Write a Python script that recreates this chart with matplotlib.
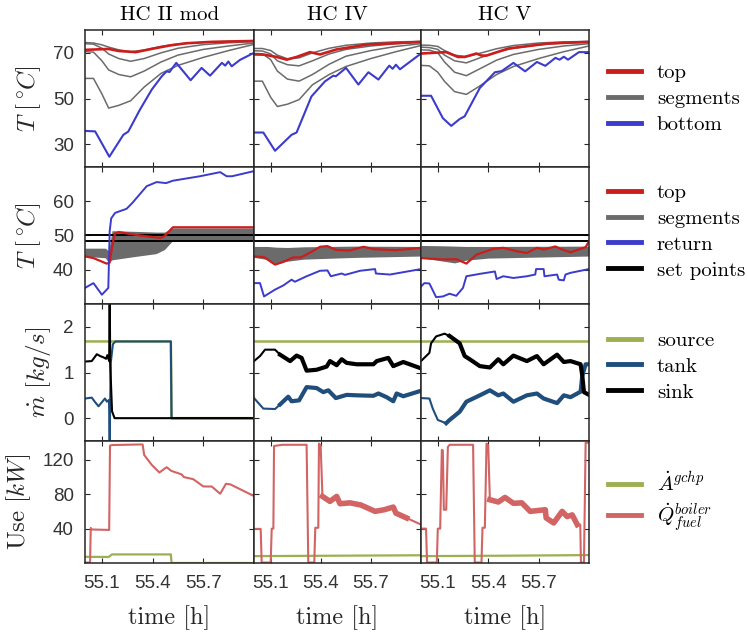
import matplotlib
matplotlib.use("Agg")
import matplotlib.pyplot as plt
from matplotlib.lines import Line2D

plt.rcParams["mathtext.fontset"] = "cm"
plt.rcParams["axes.unicode_minus"] = False

# ---------------- data ----------------
column_titles = ["HC II mod", "HC IV", "HC V"]
x_ticks = [55.1, 55.4, 55.7]
x_limits = [55.0, 56.0]

# Row 1: tank temperatures [deg C]
seg_time = [55.0, 55.05, 55.1, 55.14, 55.2, 55.27, 55.35, 55.45, 55.55, 55.7, 55.85, 56.0]
hc2_segments = [
    [74.5, 74.3, 73.5, 72.5, 71.3, 70.5, 71.2, 72.8, 73.9, 74.6, 75.0, 75.2],
    [74.0, 73.8, 72.0, 69.5, 67.5, 66.3, 67.5, 70.0, 72.0, 73.6, 74.4, 74.9],
    [70.5, 70.3, 66.5, 62.5, 60.5, 59.5, 62.0, 66.0, 69.0, 71.5, 73.0, 74.3],
    [58.8, 58.8, 52.0, 45.8, 47.0, 49.0, 55.0, 61.0, 64.5, 68.0, 71.0, 73.7],
]
hc4_segments = [
    [71.9, 71.9, 71.0, 69.0, 67.4, 67.8, 70.0, 72.0, 73.3, 74.3, 74.8, 75.0],
    [70.9, 70.8, 69.5, 66.5, 64.8, 64.3, 66.5, 69.5, 71.5, 73.0, 74.0, 74.6],
    [69.7, 69.6, 67.0, 62.0, 58.5, 57.6, 60.5, 65.0, 68.5, 71.0, 72.8, 74.0],
    [57.6, 57.6, 50.5, 46.5, 47.5, 49.5, 56.0, 60.5, 64.0, 67.5, 70.5, 73.2],
]
hc5_segments = [
    [73.4, 73.3, 72.8, 71.0, 69.0, 68.3, 69.8, 71.8, 73.2, 74.3, 74.8, 75.0],
    [72.5, 72.3, 71.5, 69.0, 66.5, 65.6, 67.8, 70.3, 72.0, 73.5, 74.3, 74.6],
    [71.3, 71.2, 70.0, 66.0, 61.5, 60.0, 63.0, 66.8, 69.3, 71.5, 73.0, 74.0],
    [64.5, 64.3, 61.5, 57.5, 53.0, 51.8, 55.5, 60.5, 64.0, 67.5, 70.5, 73.0],
]

hc2_top_t = [55.0, 55.14, 55.2, 55.3, 55.4, 55.5, 55.6, 55.75, 56.0]
hc2_top = [71.3, 71.7, 70.8, 70.3, 71.8, 73.2, 74.2, 74.8, 75.2]
hc4_top_t = [55.0, 55.06, 55.136, 55.196, 55.255, 55.335, 55.395, 55.495, 55.674, 56.0]
hc4_top = [69.3, 69.2, 68.2, 67.0, 68.2, 70.3, 69.3, 71.5, 73.6, 74.8]
hc5_top_t = [55.0, 55.15, 55.22, 55.26, 55.33, 55.36, 55.39, 55.52, 55.76, 56.0]
hc5_top = [69.7, 70.3, 68.2, 68.2, 69.7, 68.8, 68.8, 71.9, 74.1, 74.8]

hc2_bottom_t = [55.0, 55.06, 55.144, 55.227, 55.256, 55.325, 55.395, 55.454, 55.483, 55.50,
                55.54, 55.625, 55.69, 55.74, 55.81, 55.83, 55.848, 55.868, 55.917, 56.0]
hc2_bottom = [35.8, 35.6, 24.5, 34.1, 35.5, 45.1, 53.9, 59.7, 61.9, 61.6,
              65.6, 58.0, 63.4, 60.0, 65.6, 64.4, 66.2, 64.1, 66.9, 70.0]
hc4_bottom_t = [55.0, 55.056, 55.126, 55.225, 55.255, 55.344, 55.425, 55.475, 55.49, 55.551,
                55.625, 55.685, 55.745, 55.81, 55.83, 55.85, 55.874, 56.0]
hc4_bottom = [35.1, 35.1, 27.1, 34.1, 35.1, 50.9, 57.5, 60.0, 59.7, 63.4,
              56.1, 61.5, 58.3, 64.4, 63.0, 64.8, 62.8, 69.7]
hc5_bottom_t = [55.0, 55.06, 55.13, 55.18, 55.23, 55.26, 55.35, 55.44, 55.48, 55.55,
                55.62, 55.69, 55.74, 55.80, 55.825, 55.85, 55.875, 55.94, 56.0]
hc5_bottom = [51.2, 51.2, 41.4, 38.0, 41.0, 42.2, 54.6, 61.5, 62.0, 65.6,
              61.9, 66.0, 64.3, 67.8, 67.0, 68.3, 67.0, 70.3, 70.3]

# Row 2: heating circuit temperatures [deg C]
set_points = [50.0, 48.5]

hc2_band_t = [55.0, 55.12, 55.14, 55.16, 55.3, 55.42, 55.47, 55.52, 56.0]
hc2_band_hi = [46.3, 46.3, 45.5, 51.4, 51.2, 51.0, 51.0, 52.2, 52.2]
hc2_band_lo = [43.9, 43.5, 42.0, 42.9, 43.9, 44.7, 45.9, 48.6, 48.6]
hc4_band_t = [55.0, 55.08, 55.13, 55.2, 55.3, 55.6, 56.0]
hc4_band_hi = [46.8, 46.8, 46.6, 46.5, 46.7, 46.9, 46.8]
hc4_band_lo = [43.6, 43.0, 41.8, 42.5, 43.1, 43.6, 44.0]
hc5_band_t = [55.0, 55.12, 55.2, 55.27, 55.4, 56.0]
hc5_band_hi = [47.1, 47.0, 46.9, 46.8, 46.8, 46.9]
hc5_band_lo = [43.5, 42.6, 42.0, 42.8, 43.4, 44.0]

hc2_hctop_t = [55.0, 55.05, 55.128, 55.145, 55.165, 55.178, 55.2, 55.325, 55.444, 55.47, 55.52, 56.0]
hc2_hctop = [43.9, 43.4, 41.8, 42.0, 48.0, 50.6, 51.0, 50.0, 49.3, 49.8, 52.4, 52.4]
hc4_hctop_t = [55.0, 55.06, 55.126, 55.17, 55.235, 55.28, 55.325, 55.395, 55.44, 55.49,
               55.57, 55.655, 55.72, 55.85, 56.0]
hc4_hctop = [43.9, 43.7, 41.5, 42.2, 43.6, 43.6, 44.7, 46.7, 46.9, 45.8,
             45.6, 46.7, 46.0, 45.7, 46.4]
hc5_hctop_t = [55.0, 55.13, 55.21, 55.27, 55.33, 55.43, 55.49, 55.57, 55.63, 55.69,
               55.73, 55.80, 55.83, 55.89, 55.95, 55.98, 56.0]
hc5_hctop = [43.4, 43.0, 43.1, 41.8, 44.4, 46.1, 46.4, 45.4, 44.9, 46.4,
             45.9, 46.8, 46.1, 45.1, 46.1, 46.6, 48.3]

hc2_return_t = [55.0, 55.05, 55.1, 55.138, 55.146, 55.155, 55.178, 55.246, 55.28, 55.365,
                55.424, 55.48, 55.52, 55.68, 55.8, 55.838, 55.87, 56.0]
hc2_return = [34.7, 36.1, 32.7, 34.7, 51.2, 55.0, 56.6, 57.8, 59.5, 64.4,
              65.6, 65.3, 66.0, 67.3, 68.5, 67.3, 67.3, 68.8]
hc4_return_t = [55.0, 55.036, 55.06, 55.126, 55.175, 55.225, 55.245, 55.315, 55.395, 55.44,
                55.46, 55.525, 55.545, 55.635, 55.725, 55.73, 55.814, 56.0]
hc4_return = [36.1, 36.1, 32.2, 34.2, 35.4, 37.1, 36.5, 38.1, 39.7, 39.8,
              38.1, 38.9, 38.5, 39.7, 40.2, 38.9, 38.6, 40.2]
hc5_return_t = [55.0, 55.02, 55.05, 55.09, 55.13, 55.17, 55.21, 55.25, 55.27, 55.35,
                55.44, 55.45, 55.49, 55.55, 55.63, 55.68, 55.685, 55.73, 55.735, 55.81,
                55.82, 55.85, 55.86, 55.89, 56.0]
hc5_return = [35.1, 36.1, 36.0, 32.0, 32.2, 33.0, 32.4, 34.7, 38.1, 38.8,
              39.5, 37.3, 38.1, 37.6, 38.1, 38.6, 40.2, 40.2, 38.1, 38.6,
              37.1, 36.9, 38.6, 39.1, 40.2]

# Row 3: mass flows [kg/s]
hc2_source_t = [55.0, 55.508, 55.512, 56.0]
hc2_source = [1.68, 1.68, 0.0, 0.0]
hc4_source_t = [55.0, 56.0]
hc4_source = [1.68, 1.68]
hc5_source_t = [55.0, 56.0]
hc5_source = [1.68, 1.68]

hc2_tank_t = [55.0, 55.04, 55.06, 55.08, 55.1, 55.118, 55.13, 55.142, 55.146, 55.152,
              55.165, 55.18, 55.508, 55.512, 56.0]
hc2_tank = [0.43, 0.45, 0.35, 0.26, 0.35, 0.43, 0.36, 0.40, -0.55, 1.20,
            1.62, 1.68, 1.68, 0.0, 0.0]
hc4_tank_t = [55.0, 55.056, 55.126, 55.156, 55.205, 55.225, 55.27, 55.315, 55.375, 55.415,
              55.445, 55.49, 55.555, 55.615, 55.715, 55.745, 55.794, 55.834, 55.854, 55.894, 56.0]
hc4_tank = [0.44, 0.21, 0.20, 0.30, 0.47, 0.37, 0.39, 0.68, 0.66, 0.57,
            0.61, 0.44, 0.51, 0.50, 0.49, 0.54, 0.46, 0.37, 0.54, 0.48, 0.60]
hc5_tank_t = [55.0, 55.05, 55.07, 55.10, 55.15, 55.17, 55.23, 55.27, 55.35, 55.41,
              55.46, 55.49, 55.55, 55.63, 55.69, 55.73, 55.81, 55.85, 55.89, 55.95,
              55.96, 55.98, 56.0]
hc5_tank = [0.44, 0.43, 0.21, -0.04, -0.11, -0.04, 0.14, 0.36, 0.50, 0.61,
            0.50, 0.54, 0.36, 0.50, 0.54, 0.43, 0.33, 0.50, 0.46, 0.58,
            0.93, 1.18, 1.18]

hc2_sink_t = [55.0, 55.04, 55.07, 55.09, 55.11, 55.125, 55.132, 55.143, 55.146, 55.149,
              55.16, 55.175, 56.0]
hc2_sink = [1.24, 1.25, 1.40, 1.36, 1.33, 1.30, 1.38, 1.25, 3.0, 1.2,
            0.15, 0.0, 0.0]
hc4_sink_t = [55.0, 55.036, 55.066, 55.126, 55.156, 55.186, 55.216, 55.255, 55.285, 55.315,
              55.375, 55.435, 55.455, 55.495, 55.525, 55.555, 55.615, 55.715, 55.735, 55.804,
              55.834, 55.894, 56.0]
hc4_sink = [1.25, 1.36, 1.50, 1.50, 1.39, 1.32, 1.25, 1.37, 1.32, 1.04,
            1.06, 1.13, 1.25, 1.16, 1.29, 1.21, 1.18, 1.18, 1.25, 1.32,
            1.14, 1.23, 1.09]
hc5_sink_t = [55.0, 55.05, 55.06, 55.09, 55.14, 55.17, 55.23, 55.26, 55.29, 55.35,
              55.41, 55.46, 55.49, 55.55, 55.63, 55.69, 55.73, 55.81, 55.85, 55.89,
              55.95, 55.96, 55.97, 56.0]
hc5_sink = [1.25, 1.43, 1.64, 1.79, 1.85, 1.80, 1.64, 1.36, 1.29, 1.14,
            1.11, 1.29, 1.18, 1.37, 1.25, 1.36, 1.18, 1.39, 1.23, 1.25,
            1.18, 0.93, 0.57, 0.51]

# Row 4: power use [kW]
hc2_gchp_t = [55.0, 55.14, 55.16, 55.508, 55.512, 56.0]
hc2_gchp = [7.2, 7.0, 10.0, 10.0, 0.0, 0.0]
hc4_gchp_t = [55.0, 55.5, 56.0]
hc4_gchp = [8.0, 8.5, 9.0]
hc5_gchp_t = [55.0, 55.5, 56.0]
hc5_gchp = [8.0, 8.5, 9.2]

hc2_fuel_t = [55.0, 55.03, 55.034, 55.04, 55.143, 55.148, 55.16, 55.341, 55.35, 55.395,
              55.44, 55.483, 55.51, 55.572, 55.585, 55.64, 55.7, 55.75, 55.8, 55.834,
              55.86, 55.996]
hc2_fuel = [0.5, 0.5, 40.8, 39.0, 38.5, 136.6, 137.3, 138.0, 125.8, 114.2,
            105.3, 111.5, 107.3, 103.1, 100.0, 97.6, 89.1, 89.0, 80.6, 92.2,
            91.5, 78.3]
hc4_fuel_t = [55.0, 55.04, 55.046, 55.1, 55.106, 55.116, 55.12, 55.17, 55.315, 55.325,
              55.361, 55.367, 55.385, 55.389, 55.399, 55.41, 55.455, 55.495, 55.515, 55.575,
              55.64, 55.725, 55.78, 55.834, 55.85, 55.914, 56.0]
hc4_fuel = [39.7, 39.7, 0.5, 0.5, 40.0, 40.0, 136.2, 137.6, 137.6, 0.5,
            0.5, 41.0, 41.0, 139.0, 137.0, 77.5, 71.7, 77.5, 69.0, 70.0,
            67.5, 60.1, 62.0, 65.1, 58.0, 52.4, 44.7]
hc5_fuel_t = [55.0, 55.03, 55.036, 55.094, 55.1, 55.114, 55.124, 55.13, 55.136, 55.15,
              55.16, 55.17, 55.31, 55.32, 55.36, 55.366, 55.38, 55.39, 55.40, 55.41,
              55.46, 55.50, 55.55, 55.60, 55.65, 55.74, 55.745, 55.79, 55.84, 55.87,
              55.90, 55.93, 55.948, 55.952, 55.97, 55.98, 56.0]
hc5_fuel = [40.0, 40.0, 0.5, 0.5, 40.0, 40.0, 131.6, 131.0, 62.0, 62.0,
            135.0, 137.6, 137.6, 0.5, 0.5, 41.0, 41.0, 139.0, 137.0, 73.6,
            71.0, 76.3, 69.5, 70.0, 60.1, 62.0, 52.4, 46.6, 60.1, 54.0,
            56.0, 44.7, 44.7, 0.5, 0.5, 140.0, 140.0]

# ---------------- styling ----------------
C_TOP = "#cc1d1d"
C_SEG = "#6b6b6b"
C_BLUE = "#3b3bcc"
C_SOURCE = "#9bb050"
C_TANK = "#1f4e7d"
C_SINK = "#000000"
C_FUEL = "#d26464"
C_AXIS = "#262626"

SERIF = "cmr10"
TICKFONT = "Liberation Sans"
FS = 15
FS_LABEL = 18

cols = [
    dict(segments=hc2_segments, top=(hc2_top_t, hc2_top), bottom=(hc2_bottom_t, hc2_bottom),
         band=(hc2_band_t, hc2_band_lo, hc2_band_hi), hctop=(hc2_hctop_t, hc2_hctop),
         ret=(hc2_return_t, hc2_return), source=(hc2_source_t, hc2_source),
         tank=(hc2_tank_t, hc2_tank), sink=(hc2_sink_t, hc2_sink),
         gchp=(hc2_gchp_t, hc2_gchp), fuel=(hc2_fuel_t, hc2_fuel), noisy=False),
    dict(segments=hc4_segments, top=(hc4_top_t, hc4_top), bottom=(hc4_bottom_t, hc4_bottom),
         band=(hc4_band_t, hc4_band_lo, hc4_band_hi), hctop=(hc4_hctop_t, hc4_hctop),
         ret=(hc4_return_t, hc4_return), source=(hc4_source_t, hc4_source),
         tank=(hc4_tank_t, hc4_tank), sink=(hc4_sink_t, hc4_sink),
         gchp=(hc4_gchp_t, hc4_gchp), fuel=(hc4_fuel_t, hc4_fuel), noisy=True),
    dict(segments=hc5_segments, top=(hc5_top_t, hc5_top), bottom=(hc5_bottom_t, hc5_bottom),
         band=(hc5_band_t, hc5_band_lo, hc5_band_hi), hctop=(hc5_hctop_t, hc5_hctop),
         ret=(hc5_return_t, hc5_return), source=(hc5_source_t, hc5_source),
         tank=(hc5_tank_t, hc5_tank), sink=(hc5_sink_t, hc5_sink),
         gchp=(hc5_gchp_t, hc5_gchp), fuel=(hc5_fuel_t, hc5_fuel), noisy=True),
]

W, H = 748, 635
fig = plt.figure(figsize=(W / 100, H / 100), dpi=100, facecolor="white")

col_px = [(85, 254), (254, 421), (421, 589)]
row_px = [(30, 167), (167, 304), (304, 441), (441, 563)]
y_limits = [(20, 80), (30, 70), (-0.5, 2.5), (0, 142)]
y_ticks = [[30, 50, 70], [40, 50, 60], [0, 1, 2], [40, 80, 120]]
y_labels = [r"$T\ [{}^\circ\!C]$", r"$T\ [{}^\circ\!C]$", r"$\dot{m}\ [kg/s]$",
            r"$\mathrm{Use}\ [kW]$"]
y_label_x = [-0.25, -0.25, -0.19, -0.305]


def pick(t, v, t0):
    tt = [a for a in t if a >= t0]
    vv = [b for a, b in zip(t, v) if a >= t0]
    return tt, vv


axes = [[None] * 3 for _ in range(4)]
for r, (ytop, ybot) in enumerate(row_px):
    for c, (xl, xr) in enumerate(col_px):
        ax = fig.add_axes([xl / W, 1 - ybot / H, (xr - xl) / W, (ybot - ytop) / H])
        axes[r][c] = ax
        d = cols[c]
        if r == 0:
            for seg in d["segments"]:
                ax.plot(seg_time, seg, color=C_SEG, lw=1.1)
            ax.plot(*d["bottom"], color=C_BLUE, lw=1.5)
            ax.plot(*d["top"], color=C_TOP, lw=1.9)
        elif r == 1:
            bt, blo, bhi = d["band"]
            ax.fill_between(bt, blo, bhi, color=C_SEG, lw=0)
            for sp in set_points:
                ax.axhline(sp, color="black", lw=1.4)
            ax.plot(*d["hctop"], color=C_TOP, lw=1.6)
            ax.plot(*d["ret"], color=C_BLUE, lw=1.4)
        elif r == 2:
            ax.plot(*d["source"], color=C_SOURCE, lw=1.8)
            ax.plot(*d["tank"], color=C_TANK, lw=1.5)
            ax.plot(*d["sink"], color=C_SINK, lw=1.5)
            if d["noisy"]:
                ax.plot(*pick(*d["tank"], 55.15), color=C_TANK, lw=3.0)
                ax.plot(*pick(*d["sink"], 55.15), color=C_SINK, lw=3.0)
        else:
            ax.plot(*d["gchp"], color=C_SOURCE, lw=1.6)
            ax.plot(*d["fuel"], color=C_FUEL, lw=1.5)
            if d["noisy"]:
                ft, fv = d["fuel"]
                nt = [a for a, b in zip(ft, fv) if 55.41 <= a <= 55.93]
                nv = [b for a, b in zip(ft, fv) if 55.41 <= a <= 55.93]
                ax.plot(nt, nv, color=C_FUEL, lw=4.0)

        ax.set_xlim(*x_limits)
        ax.set_ylim(*y_limits[r])
        ax.set_xticks(x_ticks)
        ax.set_xticklabels([f"{v:.1f}" for v in x_ticks])
        ax.set_yticks(y_ticks[r])
        ax.set_yticklabels([str(v) for v in y_ticks[r]])
        ax.tick_params(direction="in", length=3.5, width=0.8, top=True, right=True,
                       colors=C_AXIS, labelsize=13.5, labelcolor="#333333")
        ax.tick_params(axis="x", pad=9)
        ax.tick_params(axis="y", pad=8)
        for lab in ax.get_xticklabels() + ax.get_yticklabels():
            lab.set_fontfamily(TICKFONT)
        ax.tick_params(labelleft=(c == 0), labelbottom=(r == 3))
        for s in ax.spines.values():
            s.set_color(C_AXIS)
            s.set_linewidth(1.1)
        if c == 0:
            ax.set_ylabel(y_labels[r], fontsize=FS_LABEL, color=C_AXIS)
            ax.yaxis.set_label_coords(y_label_x[r], 0.5)
        if r == 0:
            ax.set_title(column_titles[c], fontsize=FS, fontfamily=SERIF, pad=7)
        if r == 3:
            ax.set_xlabel("time [h]", fontsize=17.5, fontfamily=SERIF, color=C_AXIS)
            ax.xaxis.set_label_coords(0.5, -0.345)

# ---------------- legends ----------------
def legend(handles, labels, yc, spacing):
    lg = fig.legend(handles, labels, loc="center left", bbox_to_anchor=(608 / W, 1 - yc / H),
                    frameon=False, borderpad=0, borderaxespad=0, handlelength=1.6,
                    handletextpad=0.75, labelspacing=spacing,
                    prop={"family": SERIF, "size": FS})
    return lg

LW = 3.5
legend([Line2D([], [], color=C_TOP, lw=LW), Line2D([], [], color=C_SEG, lw=LW),
        Line2D([], [], color=C_BLUE, lw=LW)],
       ["top", "segments", "bottom"], 99, 0.35)
legend([Line2D([], [], color=C_TOP, lw=LW), Line2D([], [], color=C_SEG, lw=LW),
        Line2D([], [], color=C_BLUE, lw=LW), Line2D([], [], color="black", lw=LW)],
       ["top", "segments", "return", "set points"], 231.5, 0.35)
legend([Line2D([], [], color=C_SOURCE, lw=LW), Line2D([], [], color=C_TANK, lw=LW),
        Line2D([], [], color=C_SINK, lw=LW)],
       ["source", "tank", "sink"], 366.5, 0.35)
legend([Line2D([], [], color=C_SOURCE, lw=LW), Line2D([], [], color=C_FUEL, lw=LW)],
       [r"$\dot{A}^{gchp}$", r"$\dot{Q}^{boiler}_{fuel}$"], 502, 0.3)

fig.savefig("out.png", dpi=100, facecolor="white")
